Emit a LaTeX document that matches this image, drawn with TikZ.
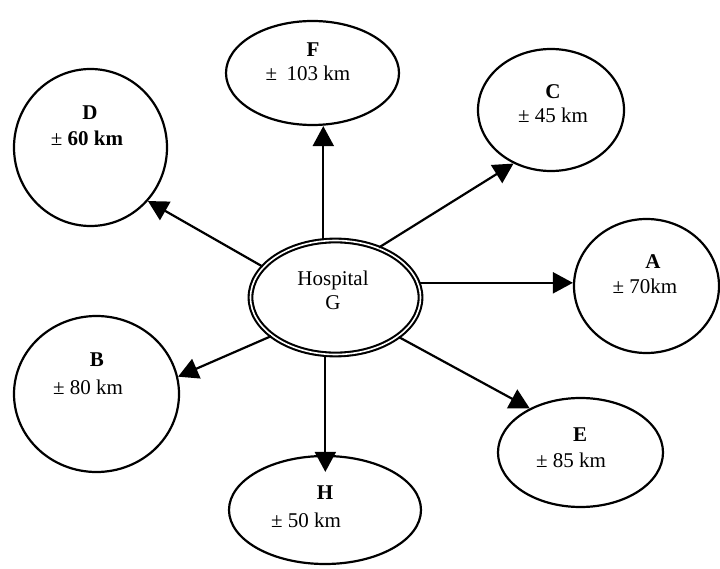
\documentclass[tikz,border=0pt]{standalone}
\usepackage{fontspec}
\setmainfont{Liberation Serif}
\usetikzlibrary{shapes.geometric,arrows.meta}
\newcommand{\myfont}{\fontsize{21}{24}\selectfont}
\tikzset{
    node style city/.style={draw,ellipse,line width=2.2pt,inner sep=0pt},
    node style hosp/.style={draw,ellipse,double,double distance=1.6pt,line width=2.1pt,%
        minimum width=170pt,minimum height=114pt,inner sep=0pt},
    node style name/.style={font=\myfont\bfseries,inner sep=0pt},
    node style dist/.style={font=\myfont,inner sep=0pt,align=center},
    arrow style road/.style={->,line width=2.2pt},
}

\begin{document}
\begin{tikzpicture}[x=1pt,y=-1pt,>={Triangle[length=20pt,width=21pt]}]
\useasboundingbox (0,0) rectangle (720,569);
% l'hopital
\node[node style hosp] (G) at (335.5,297.5) {};
\node[node style dist] (G-txt) at (333,290) {Hospital\\G};
% les villes
\node[node style city,minimum width=153pt,minimum height=157pt] (D) at (90.5,147.5) {};
\node[node style name] (D-name) at (90,113) {D};
\node[node style dist] (D-dist) at (87,138) {± \textbf{60 km}};

\node[node style city,minimum width=173pt,minimum height=104pt] (F) at (312.5,73) {};
\node[node style name] (F-name) at (313,50) {F};
\node[node style dist] (F-dist) at (308,73) {±\hspace{0.45em}103 km};

\node[node style city,minimum width=146pt,minimum height=122pt] (C) at (551,110) {};
\node[node style name] (C-name) at (553,92) {C};
\node[node style dist] (C-dist) at (553,115) {± 45 km};

\node[node style city,minimum width=145pt,minimum height=134pt] (A) at (646.5,286) {};
\node[node style name] (A-name) at (653,262) {A};
\node[node style dist] (A-dist) at (645,286) {± 70km};

\node[node style city,minimum width=165pt,minimum height=156pt] (B) at (96.5,394) {};
\node[node style name] (B-name) at (97,360) {B};
\node[node style dist] (B-dist) at (88,387) {± 80 km};

\node[node style city,minimum width=165pt,minimum height=109pt] (E) at (580.5,452.5) {};
\node[node style name] (E-name) at (580,435) {E};
\node[node style dist] (E-dist) at (571,460) {± 85 km};

\node[node style city,minimum width=192pt,minimum height=108pt] (H) at (325,510) {};
\node[node style name] (H-name) at (325,493) {H};
\node[node style dist] (H-dist) at (306,520) {± 50 km};
% les fleches
\draw[arrow style road] (G.157) -- (D.-43);
\draw[arrow style road] (G.102) -- (G.102 |- F.south);
\draw[arrow style road] (G.49) -- (C.-125);
\draw[arrow style road] (G.10) -- (G.10 -| A.west);
\draw[arrow style road] (G.-32) -- (E.139);
\draw[arrow style road,shorten >=-17pt] (G.-100) -- (G.-100 |- H.north);
\draw[arrow style road] (G.211) -- (B.12);
\end{tikzpicture}
\end{document}
